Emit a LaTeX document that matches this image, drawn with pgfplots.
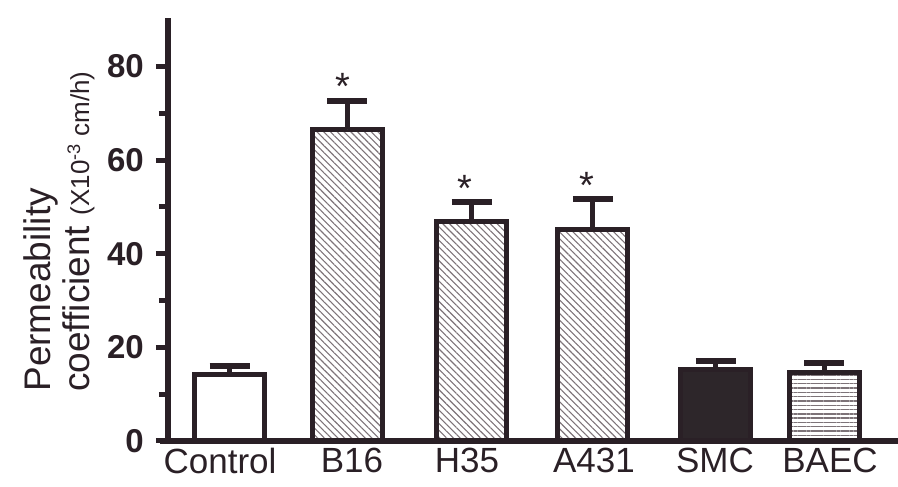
\documentclass[border=0pt]{standalone}
\usepackage{fontspec}
\setmainfont{Liberation Sans}
\usepackage{pgfplots}
\pgfplotsset{compat=1.18}
\usetikzlibrary{patterns.meta}
\definecolor{ink}{RGB}{42,32,38}
\definecolor{hatch}{RGB}{125,115,120}
\definecolor{smc}{RGB}{45,38,42}
\begin{document}
\begin{tikzpicture}
\useasboundingbox (0pt,0pt) rectangle (898pt,487pt);
\begin{axis}[
  at={(168pt,46pt)}, anchor=south west,
  x=120pt, y=4.68pt,
  xmin=-0.5125, xmax=5.571, ymin=0, ymax=90.4,
  clip=false,
  axis lines=left,
  axis line style={-, line width=6pt, draw=ink},
  x axis line style={shorten <=-8pt},
  ytick={0,20,40,60,80},
  minor ytick={10,30,50,70},
  tick align=outside,
  major tick length=12pt,
  minor tick length=9pt,
  ytick style={line width=5pt, draw=ink},
  xtick={-0.079,1.021,1.979,3.0375,4.046,5.004},
  xticklabels={Control,B16,H35,A431,SMC,BAEC},
  xtick style={draw=none},
  xticklabel style={font=\fontsize{35}{35}\selectfont, text=ink, inner sep=0pt, anchor=north, yshift=5pt},
  yticklabel style={font=\bfseries\fontsize{33}{33}\selectfont, text=ink, inner sep=0pt, anchor=east, xshift=-12pt},
  /pgf/number format/assume math mode=true,
  every axis plot/.append style={ybar, bar shift=0pt, bar width=70pt, draw=ink, line width=5pt,
    error bars/y dir=plus, error bars/y explicit,
    error bars/error bar style={line width=5pt, draw=ink},
    error bars/error mark options={rotate=90, line width=6pt, mark size=20pt, draw=ink}},
]
% Control
\addplot[fill=white] coordinates {(0,14.2) +- (0,1.8)};
% B16, H35, A431
\addplot[pattern={Lines[angle=-45, distance=4.8pt, line width=1.1pt]}, pattern color=hatch]
  coordinates {(0.983,66.6) +- (0,6.0) (2.017,46.9) +- (0,4.2) (3.029,45.2) +- (0,6.5)};
% SMC
\addplot[fill=smc] coordinates {(4.054,15.3) +- (0,1.8)};
% BAEC
\addplot[pattern={Lines[angle=0, distance=4.3pt, line width=1.4pt]}, pattern color=hatch]
  coordinates {(4.958,14.6) +- (0,2.1)};
\node[anchor=base, inner sep=0pt, font=\fontsize{38}{38}\selectfont, text=ink] at (axis cs:0.946,72.9) {*};
\node[anchor=base, inner sep=0pt, font=\fontsize{38}{38}\selectfont, text=ink] at (axis cs:1.963,51.1) {*};
\node[anchor=base, inner sep=0pt, font=\fontsize{38}{38}\selectfont, text=ink] at (axis cs:2.979,51.9) {*};
\node[rotate=90, anchor=north west, inner sep=0pt, align=left, text=ink,
      font=\fontsize{37}{39}\selectfont] at (axis cs:-1.72,10.5)
  {Permeability\\coefficient {\fontsize{26}{26}\selectfont (X10\textsuperscript{-3} cm/h)}};
\end{axis}
\end{tikzpicture}
\end{document}
